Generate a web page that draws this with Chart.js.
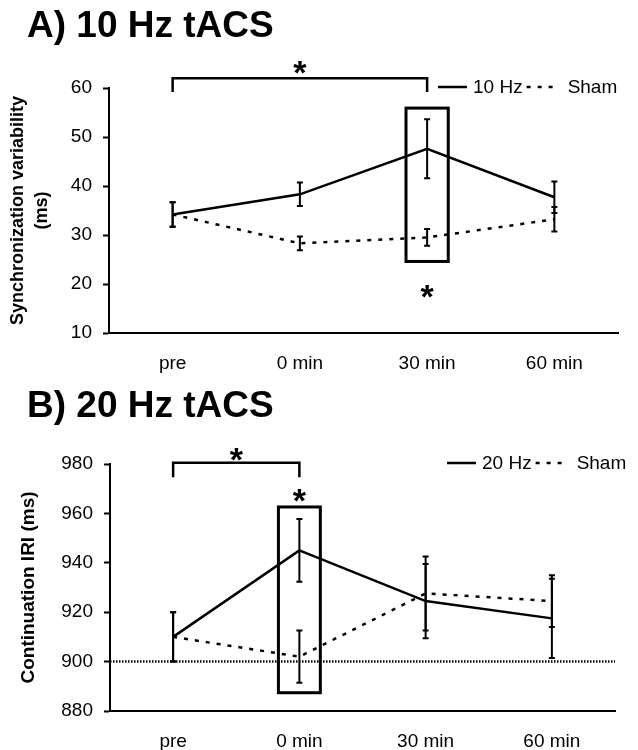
<!DOCTYPE html>
<html>
<head>
<meta charset="utf-8">
<script src="https://cdn.jsdelivr.net/npm/chart.js@4"></script>
<style>
html,body{margin:0;padding:0;background:#fff;}
#wrap{position:relative;width:638px;height:750px;overflow:hidden;}
canvas{position:absolute;left:0;}
</style>
</head>
<body>
<div id="wrap">
<canvas id="cA" width="638" height="380" style="top:0"></canvas>
<canvas id="cB" width="638" height="370" style="top:380px"></canvas>
</div>
<script>
// ---------- data ----------
const categories = ['pre', '0 min', '30 min', '60 min'];

// Panel A: 10 Hz tACS, synchronization variability (ms)
const titleA = 'A) 10 Hz tACS';
const seriesNamesA = ['10 Hz', 'Sham'];
const tacs10 = [34.2, 38.3, 47.6, 37.7];
const tacs10Err = [2.5, 2.4, 6.0, 3.2];
const shamA = [34.2, 28.3, 29.5, 33.2];
const shamAErr = [2.5, 1.4, 1.7, 2.5];
const ticksA = [10, 20, 30, 40, 50, 60];
const yTitleA = ['Synchronization variability', '(ms)'];

// Panel B: 20 Hz tACS, continuation IRI (ms)
const titleB = 'B) 20 Hz tACS';
const seriesNamesB = ['20 Hz', 'Sham'];
const tacs20 = [910, 945, 924.5, 917.5];
const tacs20Err = [10, 12.7, 15, 16];
const shamB = [910, 902, 927.6, 924.5];
const shamBErr = [10, 10.6, 15, 10.5];
const ticksB = [880, 900, 920, 940, 960, 980];
const yTitleB = 'Continuation IRI (ms)';
const referenceB = 900;

// significance marks (category index, axis values)
const bracketA = {from: 0, to: 2, top: 62.0, legEnd: 59.2, star: 64.8};
const boxA = {index: 2, low: 24.6, high: 55.9, star: 19.0};
const bracketB = {from: 0, to: 1, top: 980.5, legEnd: 974.6, star: 984.9};
const boxB = {index: 1, low: 887.4, high: 962.6, star: 968.5};

// ---------- drawing ----------
const FONT = "'Liberation Sans', Arial, Helvetica, sans-serif";

function drawStar(ctx, x, yCenter) {
  const size = 34;
  ctx.font = 'bold ' + size + 'px ' + FONT;
  ctx.textAlign = 'center';
  ctx.textBaseline = 'alphabetic';
  ctx.fillText('*', x, yCenter + 0.57 * size);
}

const annot = {
  id: 'annot',
  beforeDatasetsDraw(chart, args, o) {
    const ctx = chart.ctx, ys = chart.scales.y, ca = chart.chartArea;
    if (o.reference != null) {
      const py = ys.getPixelForValue(o.reference);
      ctx.save();
      ctx.strokeStyle = '#000';
      ctx.lineWidth = 2.5;
      ctx.setLineDash([1.5, 1.5]);
      ctx.beginPath();
      ctx.moveTo(ca.left, py);
      ctx.lineTo(ca.right, py);
      ctx.stroke();
      ctx.restore();
    }
  },
  afterDatasetsDraw(chart, args, o) {
    const ctx = chart.ctx, xs = chart.scales.x, ys = chart.scales.y;
    ctx.save();
    ctx.strokeStyle = '#000';
    ctx.fillStyle = '#000';
    // error bars
    o.errors.forEach((errs, di) => {
      const meta = chart.getDatasetMeta(di);
      const vals = chart.data.datasets[di].data;
      ctx.lineWidth = 2;
      meta.data.forEach((pt, j) => {
        const t = ys.getPixelForValue(vals[j] + errs[j]);
        const b = ys.getPixelForValue(vals[j] - errs[j]);
        ctx.beginPath();
        ctx.moveTo(pt.x, t); ctx.lineTo(pt.x, b);
        ctx.moveTo(pt.x - 3, t); ctx.lineTo(pt.x + 3, t);
        ctx.moveTo(pt.x - 3, b); ctx.lineTo(pt.x + 3, b);
        ctx.stroke();
      });
    });
    // box
    const catW = (xs.right - xs.left) / categories.length;
    const bx = xs.getPixelForValue(o.box.index);
    const half = catW * 0.166;
    const bt = ys.getPixelForValue(o.box.high);
    const bb = ys.getPixelForValue(o.box.low);
    ctx.lineWidth = 3;
    ctx.strokeRect(bx - half, bt, 2 * half, bb - bt);
    drawStar(ctx, bx, ys.getPixelForValue(o.box.star));
    // bracket
    const x1 = xs.getPixelForValue(o.bracket.from);
    const x2 = xs.getPixelForValue(o.bracket.to);
    const yt = ys.getPixelForValue(o.bracket.top);
    const yl = ys.getPixelForValue(o.bracket.legEnd);
    ctx.lineWidth = 2.5;
    ctx.beginPath();
    ctx.moveTo(x1, yl); ctx.lineTo(x1, yt); ctx.lineTo(x2, yt); ctx.lineTo(x2, yl);
    ctx.stroke();
    drawStar(ctx, (x1 + x2) / 2, ys.getPixelForValue(o.bracket.star));
    ctx.restore();
  },
  afterDraw(chart, args, o) {
    const ctx = chart.ctx;
    ctx.save();
    ctx.fillStyle = '#000';
    ctx.strokeStyle = '#000';
    // panel title
    ctx.font = 'bold 37px ' + FONT;
    ctx.textAlign = 'left';
    ctx.textBaseline = 'alphabetic';
    ctx.fillText(o.title, o.titleX, o.titleY);
    // legend
    const ds = chart.data.datasets;
    let x = o.legendX;
    const y = o.legendY;
    ctx.font = '19px ' + FONT;
    ctx.textBaseline = 'middle';
    ctx.lineWidth = 2.5;
    ctx.beginPath(); ctx.moveTo(x, y); ctx.lineTo(x + 29, y); ctx.stroke();
    x += 29 + 6;
    ctx.fillText(ds[0].label, x, y + 1);
    x += ctx.measureText(ds[0].label).width + 4;
    ctx.setLineDash([4, 7]);
    ctx.beginPath(); ctx.moveTo(x, y); ctx.lineTo(x + 26, y); ctx.stroke();
    ctx.setLineDash([]);
    x += 26 + 15;
    ctx.fillText(ds[1].label, x, y + 1);
    ctx.restore();
  }
};

function makeChart(id, c) {
  return new Chart(document.getElementById(id), {
    type: 'line',
    data: {
      labels: categories,
      datasets: [
        {label: c.names[0], data: c.main, borderColor: '#000', borderWidth: 2.5,
         pointRadius: 0, tension: 0, fill: false},
        {label: c.names[1], data: c.sham, borderColor: '#000', borderWidth: 2.5,
         borderDash: [4, 7], pointRadius: 0, tension: 0, fill: false}
      ]
    },
    options: {
      responsive: false,
      animation: false,
      devicePixelRatio: 1,
      layout: {padding: {top: c.padTop, right: c.padRight, bottom: 0, left: 0}},
      plugins: {
        legend: {display: false},
        tooltip: {enabled: false},
        title: {display: false},
        annot: {
          errors: [c.mainErr, c.shamErr],
          box: c.box, bracket: c.bracket, reference: c.reference,
          title: c.title, titleX: 27, titleY: c.titleY,
          legendX: c.legendX, legendY: c.legendY
        }
      },
      scales: {
        x: {
          type: 'category',
          offset: true,
          afterFit: s => { s.height = c.xHeight; },
          grid: {display: false},
          border: {display: true, color: '#000', width: 2},
          ticks: {color: '#000', font: {family: FONT, size: 19}, padding: 11,
                  maxRotation: 0, autoSkip: false}
        },
        y: {
          min: c.ticks[0],
          max: c.ticks[c.ticks.length - 1],
          afterBuildTicks: s => { s.ticks = c.ticks.map(v => ({value: v})); },
          afterFit: s => { s.width = c.yWidth; },
          grid: {display: true, drawOnChartArea: false, drawTicks: true,
                 tickLength: 6, tickColor: '#000', tickWidth: 2},
          border: {display: true, color: '#000', width: 2},
          ticks: {color: '#000', font: {family: FONT, size: 19}, padding: 11},
          title: {display: true, text: c.yTitle, color: '#000',
                  font: {family: FONT, size: c.yTitleSize, weight: 'bold', lineHeight: 1.33},
                  padding: {top: c.yTitlePad, bottom: 0}}
        }
      }
    },
    plugins: [annot]
  });
}

makeChart('cA', {
  names: seriesNamesA, main: tacs10, mainErr: tacs10Err, sham: shamA, shamErr: shamAErr,
  ticks: ticksA, yTitle: yTitleA, yTitleSize: 18, yTitlePad: 6,
  box: boxA, bracket: bracketA, reference: null,
  title: titleA, titleY: 37, legendX: 438, legendY: 87,
  padTop: 88, padRight: 20, xHeight: 47, yWidth: 109
});

makeChart('cB', {
  names: seriesNamesB, main: tacs20, mainErr: tacs20Err, sham: shamB, shamErr: shamBErr,
  ticks: ticksB, yTitle: yTitleB, yTitleSize: 19, yTitlePad: 16,
  box: boxB, bracket: bracketB, reference: referenceB,
  title: titleB, titleY: 37, legendX: 447, legendY: 83,
  padTop: 84, padRight: 23, xHeight: 39, yWidth: 110
});
</script>
</body>
</html>
